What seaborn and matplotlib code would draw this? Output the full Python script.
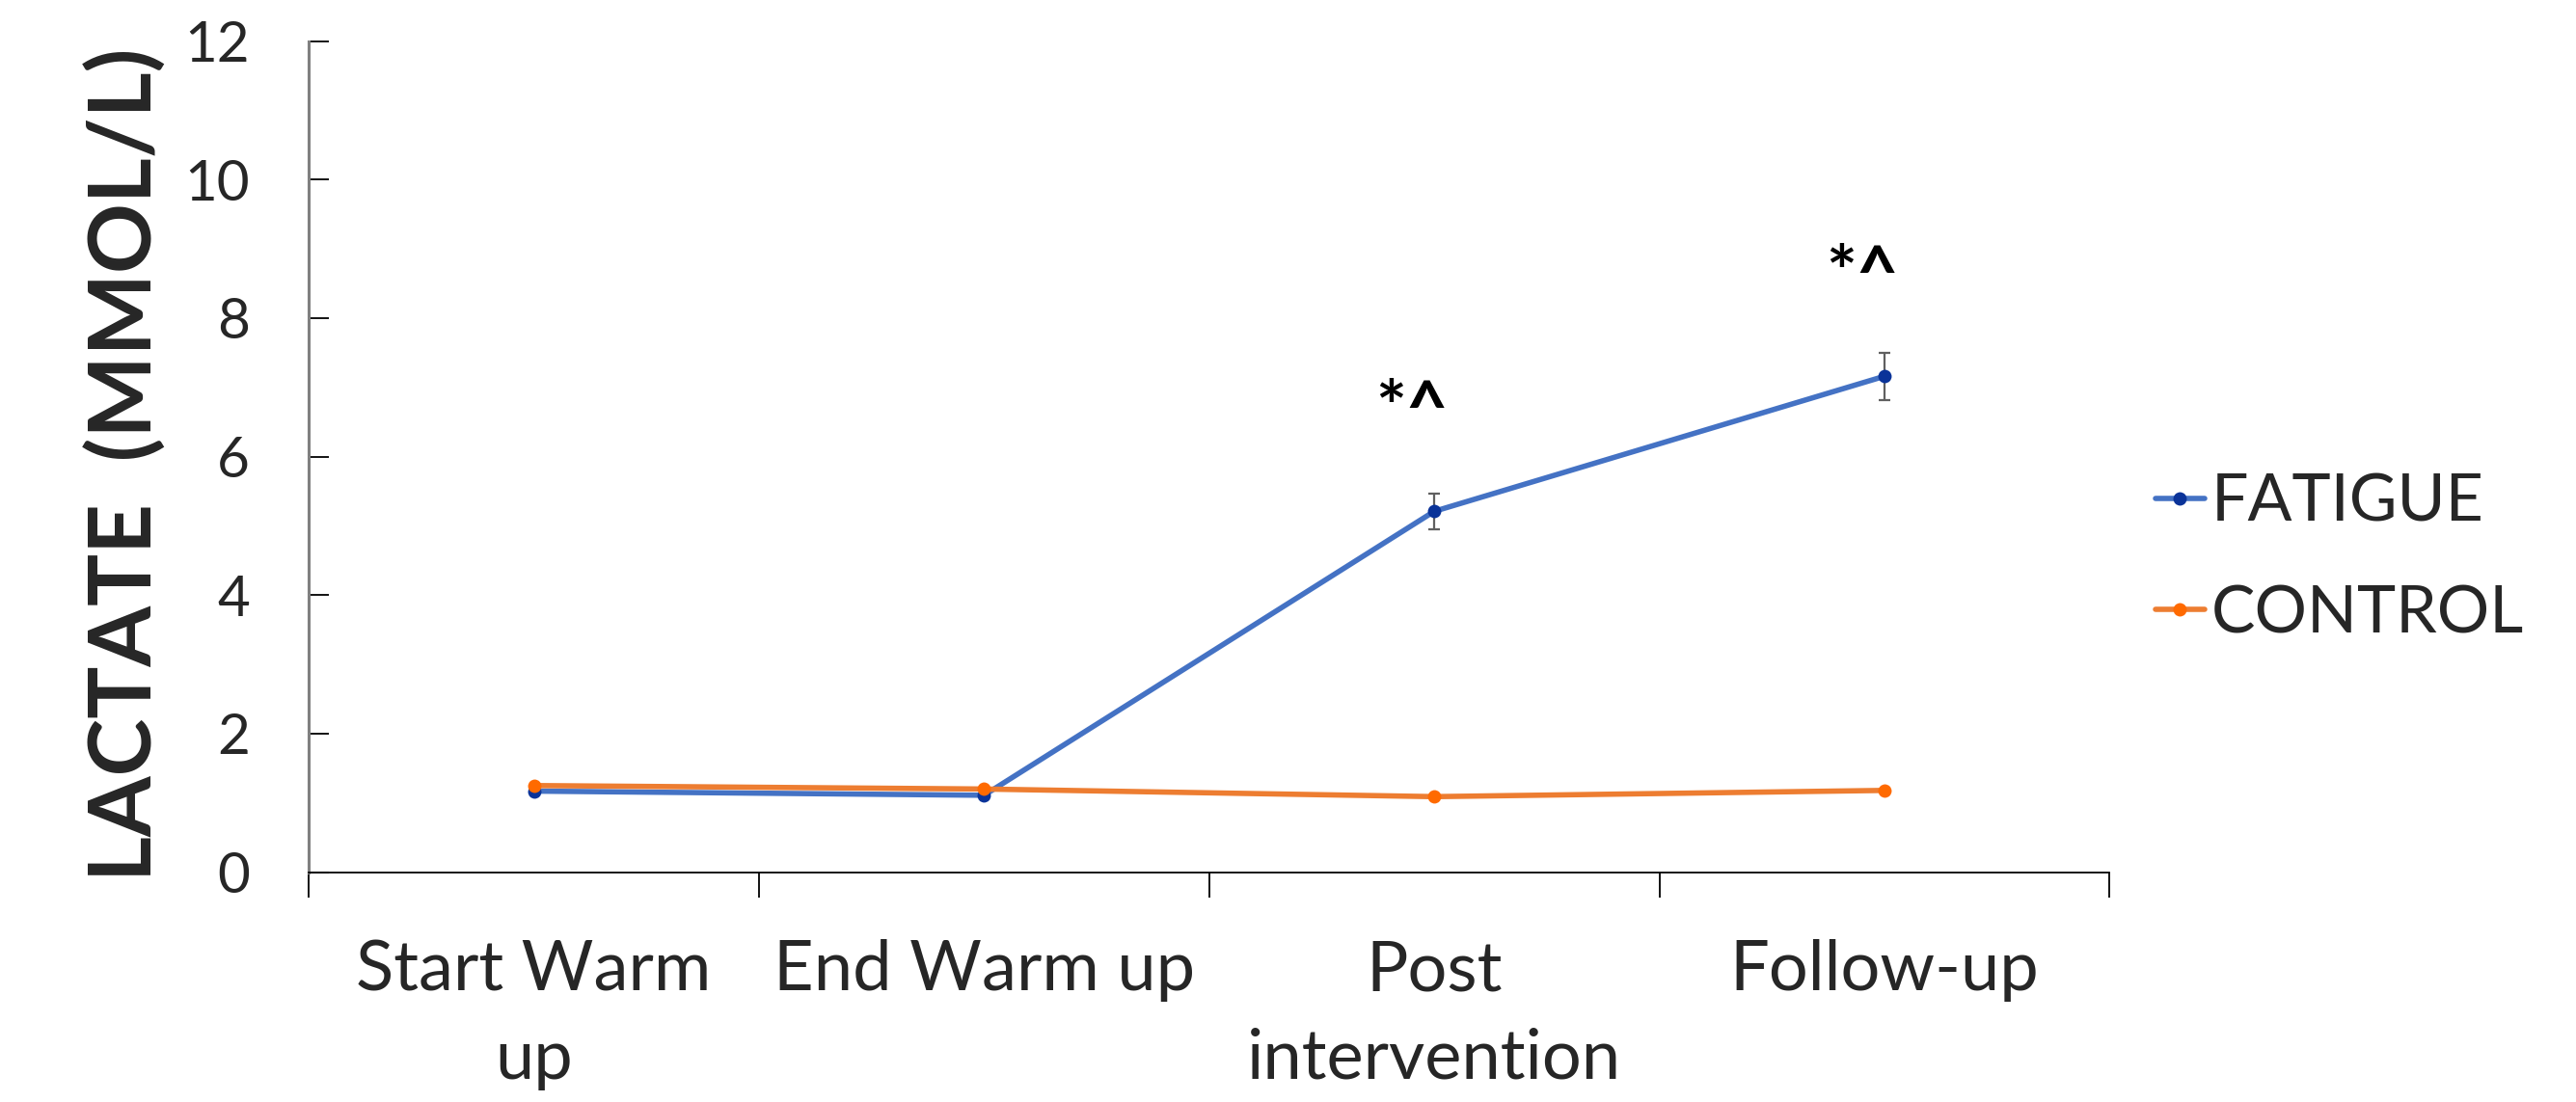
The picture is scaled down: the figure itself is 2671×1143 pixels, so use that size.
import pandas as pd
import seaborn as sns
import matplotlib.pyplot as plt
from matplotlib.lines import Line2D

# Data
timepoints = ['Start Warm\nup', 'End Warm up', 'Post\nintervention', 'Follow-up']
fatigue = [1.17, 1.11, 5.21, 7.16]
fatigue_err = [0.0, 0.0, 0.26, 0.34]
control = [1.25, 1.20, 1.09, 1.18]
annot_text = ['', '', '*^', '*^']

sns.set_style("white")
plt.rcParams['font.family'] = ['Lato', 'DejaVu Sans']

df = pd.DataFrame({
    'Time': timepoints * 2,
    'Lactate': fatigue + control,
    'Group': ['FATIGUE'] * 4 + ['CONTROL'] * 4,
})

fig = plt.figure(figsize=(26.71, 11.43), dpi=100)
ax = fig.add_axes([0.1199, 0.2086, 0.699, 0.7541])

sns.lineplot(data=df, x='Time', y='Lactate', hue='Group', sort=False,
             palette={'FATIGUE': '#4472C4', 'CONTROL': '#ED7D31'},
             linewidth=4, marker='o', markersize=10, markeredgewidth=0,
             legend=False, ax=ax)

# marker colours (darker than lines, like Excel)
ax.lines[0].set_markerfacecolor('#0A3399')
ax.lines[1].set_markerfacecolor('#FF6A00')

# SEM error bars for fatigue
ax.errorbar(range(len(timepoints)), fatigue, yerr=fatigue_err, fmt='none',
            ecolor='#606060', elinewidth=1.6, capsize=4.5, capthick=1.6, zorder=1)

# significance marks
for i, (v, t) in enumerate(zip(fatigue, annot_text)):
    if t:
        ax.text(i - 0.05, v + 1.45, t, ha='center', va='center',
                fontsize=54, fontweight='bold', color='black')

ax.set_ylim(0, 12)
ax.set_xlim(-0.5, 3.5)
ax.set_yticks(range(0, 13, 2))
ax.set_xticks([-0.5, 0.5, 1.5, 2.5, 3.5])
ax.set_xticklabels([])
ax.set_xticks(range(4), minor=True)
ax.set_xticklabels(timepoints, minor=True)
ax.tick_params(axis='x', which='major', direction='out', length=19, width=1.3,
               color='black', bottom=True)
ax.tick_params(axis='x', which='minor', length=0, pad=50, labelsize=52)
ax.tick_params(axis='y', direction='in', length=15, width=1.3, color='black',
               left=True, pad=44, labelsize=42)
for lbl in ax.get_xticklabels(minor=True):
    lbl.set_linespacing(1.5)

for s in ['top', 'right']:
    ax.spines[s].set_visible(False)
ax.spines['left'].set_color('#808080')
ax.spines['left'].set_linewidth(2.2)
ax.spines['bottom'].set_color('black')
ax.spines['bottom'].set_linewidth(1.3)

ax.set_xlabel('')
ax.set_ylabel('LACTATE  (MMOL/L)', fontsize=65, fontweight='bold', labelpad=34)
ax.yaxis.set_label_coords(-0.079, 0.49)

handles = [
    Line2D([], [], color='#4472C4', lw=4, marker='o', ms=10, mec='none', mfc='#0A3399'),
    Line2D([], [], color='#ED7D31', lw=4, marker='o', ms=10, mec='none', mfc='#FF6A00'),
]
fig.legend(handles, ['FATIGUE', 'CONTROL'], loc='center left',
           bbox_to_anchor=(0.8265, 0.493), frameon=False, fontsize=49,
           handlelength=0.75, handletextpad=0.1, labelspacing=0.78,
           borderaxespad=0)

fig.savefig('out.png', dpi=100)
